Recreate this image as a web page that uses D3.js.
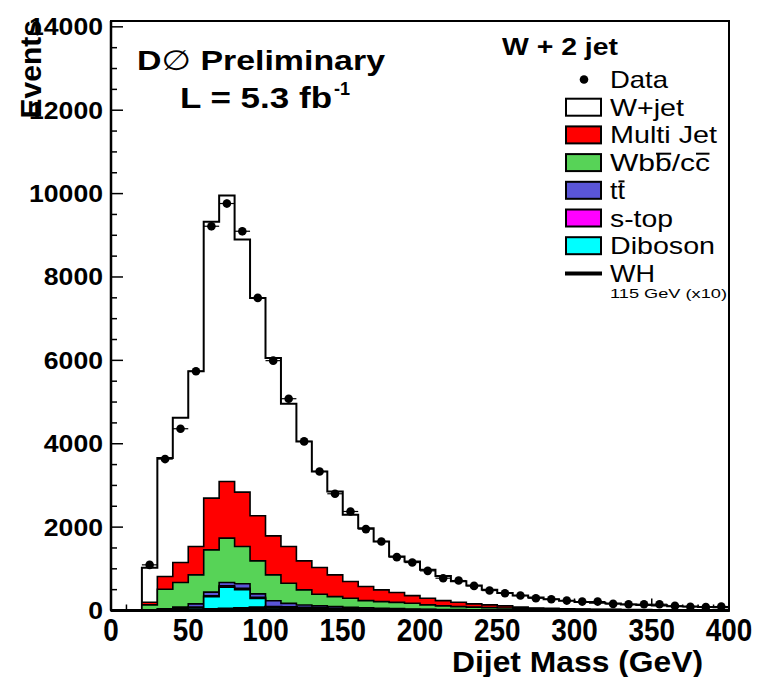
<!DOCTYPE html>
<html>
<head>
<meta charset="utf-8">
<script src="https://cdn.jsdelivr.net/npm/d3@7"></script>
<style>
  html, body { margin: 0; padding: 0; background: #fff; }
  svg { display: block; }
  text { font-family: "Liberation Sans", Arial, sans-serif; fill: #000; }
</style>
</head>
<body>
<svg id="chart" width="759" height="677"></svg>
<script>
// Dijet mass, W + 2 jet channel. 10 GeV bins from 0 to 400 GeV.
const binWidth = 10;
const binLow = [0,10,20,30,40,50,60,70,80,90,100,110,120,130,140,150,160,170,180,190,
                200,210,220,230,240,250,260,270,280,290,300,310,320,330,340,350,360,370,380,390];

// Observed events per bin
const dataCounts = [0,0,1095,3632,4360,5740,9217,9762,9097,7498, 5993,5080,4056,3335,2800,2375,1952,1655,1280,1150,
                    951,775,718,590,478,415,358,295,271,238, 214,214,158,151,150,150,110,90,80,95];

// Background predictions, per bin (stacked bottom to top: Diboson, s-top, tt, Wbb/cc, Multi Jet, W+jet)
const diboson   = [0,0,5,20,40,60,330,560,500,290, 60,40,30,25,20,16,13,10,8,6, 5,4,3,3,2,2,2,1,1,1, 1,1,0,0,0,0,0,0,0,0];
const singleTop = [0,0,3,8,12,20,25,30,30,28, 25,22,18,15,12,10,8,7,6,5, 4,3,3,2,2,2,1,1,1,1, 1,0,0,0,0,0,0,0,0,0];
const ttbar     = [0,0,5,15,30,80,85,80,110,80, 150,110,85,70,60,50,42,36,30,25, 21,18,15,12,10,9,8,7,6,5, 4,3,3,2,2,2,1,1,1,1];
const wbbcc     = [0,0,121,468,588,695,1015,1066,894,793, 620,483,362,281,242,219,175,161,151,139, 104,85,73,63,56,47,39,35,30,26, 22,19,17,15,13,12,10,9,8,7];
const multiJet  = [0,0,64,303,480,679,1241,1359,1306,1080, 936,879,696,639,521,399,336,281,235,183, 161,128,104,78,64,50,30,16,12,9, 7,7,7,6,6,5,4,4,3,3];
const wJet      = [0,0,825,2842,3474,4202,6627,6859,6058,5227, 4267,3426,2865,2305,2000,1601,1401,1160,865,817, 680,592,502,442,366,310,280,250,220,193, 170,155,138,121,109,101,89,81,73,67];
// WH signal, m_H = 115 GeV, scaled by 10
const whSignal  = [0,0,1,3,6,12,22,35,50,65, 75,70,58,45,33,24,17,12,8,6, 4,3,2,2,1,1,1,1,0,0, 0,0,0,0,0,0,0,0,0,0];

const xTicks = [0,50,100,150,200,250,300,350,400];
const yTicks = [0,2000,4000,6000,8000,10000,12000,14000];

const stackOrder = [
  {name: "Diboson",  values: diboson,   color: "#00ffff"},
  {name: "s-top",    values: singleTop, color: "#ff00ff"},
  {name: "tt",       values: ttbar,     color: "#5a55d8"},
  {name: "Wbb/cc",   values: wbbcc,     color: "#57d357"},
  {name: "Multi Jet",values: multiJet,  color: "#ff0000"},
  {name: "W+jet",    values: wJet,      color: "#ffffff"}
];

(function draw() {
  const svg = d3.select("#chart");
  const plotL = 111, plotR = 729, plotT = 21, plotB = 610.5;

  const x = d3.scaleLinear().domain([0, 400]).range([plotL, plotR]);
  const y = d3.scaleLinear().domain([0, 14140]).range([plotB, plotT]);

  // inward axis ticks, beneath the histograms
  const tickG = svg.append("g");
  d3.range(0, 401, 10).forEach(v => {
    const major = v % 50 === 0;
    tickG.append("line")
      .attr("x1", x(v)).attr("x2", x(v))
      .attr("y1", plotB).attr("y2", plotB - (major ? 12 : 6))
      .attr("stroke", "#000").attr("stroke-width", 1.5);
  });
  d3.range(0, 14001, 500).forEach(v => {
    const major = v % 2000 === 0;
    tickG.append("line")
      .attr("x1", plotL).attr("x2", plotL + (major ? 12 : 6))
      .attr("y1", y(v)).attr("y2", y(v))
      .attr("stroke", "#000").attr("stroke-width", 1.5);
  });

  // cumulative stacks
  let running = binLow.map(() => 0);
  const layers = stackOrder.map(s => {
    running = running.map((r, i) => r + s.values[i]);
    return {name: s.name, color: s.color, cum: running.slice()};
  });

  function stepPoints(vals) {
    const pts = [];
    binLow.forEach((lo, i) => {
      pts.push([lo, vals[i]]);
      pts.push([lo + binWidth, vals[i]]);
    });
    return pts;
  }
  const area = d3.area().x(d => x(d[0])).y0(y(0)).y1(d => y(d[1]));
  const line = d3.line().x(d => x(d[0])).y(d => y(d[1]));

  const histG = svg.append("g");
  layers.slice().reverse().forEach(l => {
    histG.append("path")
      .attr("d", area(stepPoints(l.cum)))
      .attr("fill", l.color)
      .attr("stroke", "#000")
      .attr("stroke-width", l.name === "W+jet" ? 2 : 1.6);
  });

  // WH x10 signal
  histG.append("path")
    .attr("d", line(stepPoints(whSignal)))
    .attr("fill", "none").attr("stroke", "#000").attr("stroke-width", 3);

  // frame
  svg.append("rect")
    .attr("x", plotL).attr("y", plotT)
    .attr("width", plotR - plotL).attr("height", plotB - plotT)
    .attr("fill", "none").attr("stroke", "#000").attr("stroke-width", 2);
  svg.append("line").attr("x1", plotL).attr("x2", plotR).attr("y1", plotB).attr("y2", plotB)
    .attr("stroke", "#000").attr("stroke-width", 3);
  svg.append("line").attr("x1", plotL).attr("x2", plotL).attr("y1", plotT).attr("y2", plotB)
    .attr("stroke", "#000").attr("stroke-width", 2.5);

  // data points with error bars
  const dataG = svg.append("g");
  binLow.forEach((lo, i) => {
    const n = dataCounts[i];
    if (n <= 0) return;
    const cx = x(lo + binWidth / 2), cy = y(n), err = Math.sqrt(n);
    dataG.append("line").attr("x1", x(lo)).attr("x2", x(lo + binWidth))
      .attr("y1", cy).attr("y2", cy).attr("stroke", "#000").attr("stroke-width", 1.2);
    dataG.append("line").attr("x1", cx).attr("x2", cx)
      .attr("y1", y(n - err)).attr("y2", y(n + err)).attr("stroke", "#000").attr("stroke-width", 1.2);
    dataG.append("circle").attr("cx", cx).attr("cy", cy).attr("r", 4.3).attr("fill", "#000");
  });

  // axis labels
  const labG = svg.append("g");
  xTicks.forEach(v => {
    const s = String(v);
    labG.append("text")
      .attr("x", x(v)).attr("y", 641)
      .attr("text-anchor", "middle")
      .attr("font-size", 31).attr("font-weight", "bold")
      .attr("textLength", 15.5 * s.length).attr("lengthAdjust", "spacingAndGlyphs")
      .text(s);
  });
  yTicks.forEach(v => {
    const s = String(v);
    labG.append("text")
      .attr("x", 103).attr("y", y(v) + 8.5)
      .attr("text-anchor", "end")
      .attr("font-size", 24).attr("font-weight", "bold")
      .attr("textLength", 14.8 * s.length).attr("lengthAdjust", "spacingAndGlyphs")
      .text(s);
  });
  labG.append("text")
    .attr("x", 703).attr("y", 672)
    .attr("text-anchor", "end")
    .attr("font-size", 30).attr("font-weight", "bold")
    .attr("textLength", 251).attr("lengthAdjust", "spacingAndGlyphs")
    .text("Dijet Mass (GeV)");
  labG.append("text")
    .attr("transform", "translate(41,20) rotate(-90)")
    .attr("text-anchor", "end")
    .attr("font-size", 30).attr("font-weight", "bold")
    .text("Events");

  // experiment and luminosity
  const dz = labG.append("text")
    .attr("x", 137).attr("y", 70)
    .attr("font-size", 28).attr("font-weight", "bold")
    .attr("textLength", 248).attr("lengthAdjust", "spacingAndGlyphs");
  dz.append("tspan").text("D");
  dz.append("tspan").attr("font-weight", "normal").attr("font-family", "DejaVu Sans").text("\u2205");
  dz.append("tspan").text(" Preliminary");
  labG.append("text")
    .attr("x", 180).attr("y", 108)
    .attr("font-size", 29).attr("font-weight", "bold")
    .attr("textLength", 152).attr("lengthAdjust", "spacingAndGlyphs")
    .text("L = 5.3 fb");
  labG.append("text")
    .attr("x", 334).attr("y", 95)
    .attr("font-size", 18).attr("font-weight", "bold")
    .text("-1");

  // legend
  const leg = svg.append("g");
  leg.append("text")
    .attr("x", 502).attr("y", 55)
    .attr("font-size", 24).attr("font-weight", "bold")
    .attr("textLength", 116).attr("lengthAdjust", "spacingAndGlyphs")
    .text("W + 2 jet");

  const legendRows = [
    {label: "Data",      kind: "dot",  width: 58},
    {label: "W+jet",     kind: "box",  color: "#ffffff", width: 74},
    {label: "Multi Jet", kind: "box",  color: "#ff0000", width: 107},
    {label: "Wbb/cc",    kind: "box",  color: "#57d357", width: 100, bars: [2, 5]},
    {label: "tt",        kind: "box",  color: "#5a55d8", width: 15, bars: [1]},
    {label: "s-top",     kind: "box",  color: "#ff00ff", width: 63},
    {label: "Diboson",   kind: "box",  color: "#00ffff", width: 105},
    {label: "WH",        kind: "line", width: 45}
  ];
  const rowY0 = 79.5, rowStep = 27.7;
  legendRows.forEach((r, i) => {
    const cy = rowY0 + i * rowStep;
    if (r.kind === "dot") {
      leg.append("circle").attr("cx", 584).attr("cy", cy).attr("r", 4.3).attr("fill", "#000");
    } else if (r.kind === "box") {
      leg.append("rect").attr("x", 566).attr("y", cy - 8.5).attr("width", 35).attr("height", 17)
        .attr("fill", r.color).attr("stroke", "#000").attr("stroke-width", 2);
    } else {
      leg.append("line").attr("x1", 565).attr("x2", 602).attr("y1", cy).attr("y2", cy)
        .attr("stroke", "#000").attr("stroke-width", 4);
    }
    const t = leg.append("text")
      .attr("x", 610).attr("y", cy + 8.5)
      .attr("font-size", 24)
      .attr("textLength", r.width).attr("lengthAdjust", "spacingAndGlyphs")
      .text(r.label);
    // anti-quark bars over selected characters
    if (r.bars) {
      const node = t.node();
      r.bars.forEach(ci => {
        const ext = node.getExtentOfChar(ci);
        const by = ext.y + ext.height * 0.17;
        leg.append("line")
          .attr("x1", ext.x + 1).attr("x2", ext.x + ext.width - 0.5)
          .attr("y1", by).attr("y2", by)
          .attr("stroke", "#000").attr("stroke-width", 2);
      });
    }
  });
  leg.append("text")
    .attr("x", 610).attr("y", 298)
    .attr("font-size", 13)
    .attr("textLength", 117).attr("lengthAdjust", "spacingAndGlyphs")
    .text("115 GeV (x10)");
})();
</script>
</body>
</html>
